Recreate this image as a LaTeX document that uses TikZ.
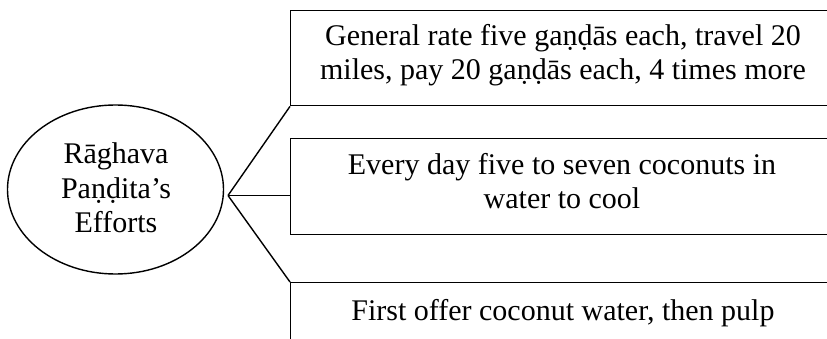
\documentclass[tikz,border=0pt]{standalone}
\usepackage{fontspec}
\setmainfont{Liberation Serif}
\usetikzlibrary{shapes.geometric}

\tikzset{
  caixa/.style={draw, line width=1.4pt, inner sep=0pt, anchor=north west, minimum width=546pt},
  texto/.style={align=center, font=\fontsize{30}{34.5}\selectfont},
}

\begin{document}
\begin{tikzpicture}[x=1pt,y=-1pt]
  % Marco de la figura
  \useasboundingbox (0,0) rectangle (827,339);
  \clip (0,0) rectangle (827,339);

  % Elipse
  \node[draw, ellipse, line width=1.4pt, minimum width=216pt, minimum height=169pt,
        inner sep=0pt] (rag) at (115.5,189.5) {};
  \node[texto] (ragtxt) at (116,188)
    {Rāghava\\Paṇḍita’s\\Efforts};
  \coordinate (hub) at (228,195.5);

  % Cajas
  \node[caixa, minimum height=95pt] (b1) at (290,10) {};
  \node[caixa, minimum height=96pt] (b2) at (290,138) {};
  \node[caixa, minimum height=100pt] (b3) at (290,282) {};

  % Textos
  \node[texto] (t1) at (563,55) {General rate five gaṇḍās each, travel 20\\miles, pay 20 gaṇḍās each, 4 times more};
  \node[texto] (t2) at (562,181) {Every day five to seven coconuts in\\water to cool};
  \node[texto] (t3) at (563,313) {First offer coconut water, then pulp};

  % Lineas
  \draw[line width=1.4pt] (hub) -- (b1.south west);
  \draw[line width=1.4pt] (hub) -- (hub -| b2.west);
  \draw[line width=1.4pt] (hub) -- (b3.north west);
\end{tikzpicture}
\end{document}
